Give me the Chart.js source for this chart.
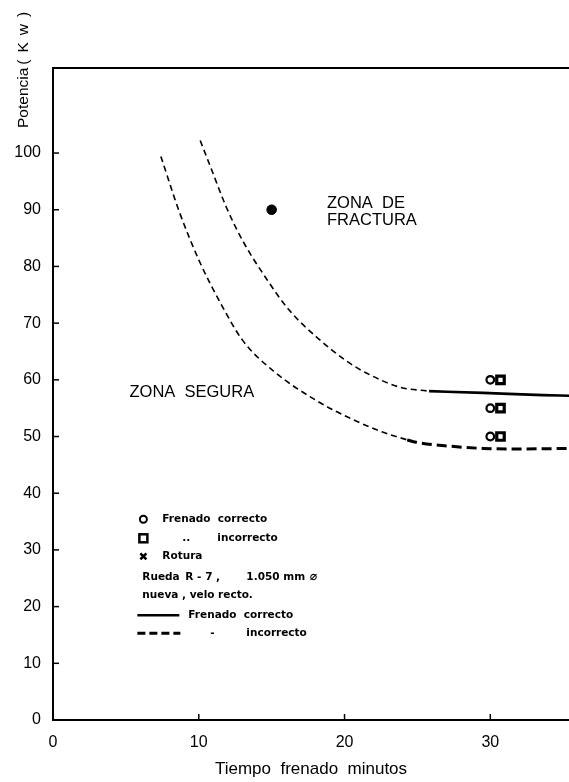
<!DOCTYPE html>
<html>
<head>
<meta charset="utf-8">
<title>Potencia frente a tiempo de frenado</title>
<script src="https://cdn.jsdelivr.net/npm/chart.js@4.4.1/dist/chart.umd.min.js"></script>
<style>
  html, body { margin: 0; padding: 0; background: #fff; }
</style>
</head>
<body>
<canvas id="chart" width="569" height="782"></canvas>
<script>
// límite de la zona de fractura (tramo a trazos finos)
const supTiempo   = [10.1, 10.8, 11.9, 13.0, 14.7, 16.2, 18.1, 20.2, 21.5, 23.8, 25.8];
const supPotencia = [102.2, 97.6, 90.4, 84.6, 77.6, 72.3, 67.5, 63.2, 61.2, 58.7, 58.0];
// continuación en trazo continuo (frenado correcto)
const supCorrTiempo   = [25.8, 29.5, 33.6, 35.4];
const supCorrPotencia = [58.0, 57.7, 57.3, 57.2];

// límite de la zona segura (trazos finos)
const infTiempo   = [7.4, 8.7, 10.1, 11.5, 13.0, 15.1, 18.1, 20.4, 22.6, 24.3];
const infPotencia = [99.4, 89.4, 80.6, 73.5, 67.0, 61.6, 56.3, 53.2, 50.8, 49.4];
// continuación a trazos gruesos (frenado incorrecto)
const infIncTiempo   = [24.3, 24.9, 27.2, 29.5, 31.8, 35.4];
const infIncPotencia = [49.4, 49.0, 48.3, 47.9, 47.8, 47.9];

// ensayos
const correctoTiempo     = [30, 30, 30];
const correctoPotencia   = [60, 55, 50];
const incorrectoTiempo   = [30.7, 30.7, 30.7];
const incorrectoPotencia = [60, 55, 50];
const roturaTiempo   = [15];
const roturaPotencia = [90];

// ejes
const xTicks = [0, 10, 20, 30];
const yTicks = [0, 10, 20, 30, 40, 50, 60, 70, 80, 90, 100];

const pts = (xs, ys) => xs.map((v, i) => ({ x: v, y: ys[i] }));
const FONT = '"Liberation Sans", Arial, sans-serif';

// marco superior, marcas interiores, rótulos y leyenda dibujada a mano
const rotulos = {
  id: 'rotulos',
  afterDatasetsDraw(chart) {
    const { ctx, chartArea: a, scales: { x, y } } = chart;
    ctx.save();
    ctx.strokeStyle = '#000';
    ctx.fillStyle = '#000';

    ctx.lineWidth = 2;
    ctx.beginPath();
    ctx.moveTo(a.left - 1, a.top);
    ctx.lineTo(a.right, a.top);
    ctx.stroke();

    ctx.lineWidth = 1.5;
    yTicks.forEach(v => {
      const py = y.getPixelForValue(v);
      ctx.beginPath(); ctx.moveTo(a.left, py); ctx.lineTo(a.left + 6, py); ctx.stroke();
    });
    xTicks.forEach(v => {
      const px = x.getPixelForValue(v);
      ctx.beginPath(); ctx.moveTo(px, a.bottom); ctx.lineTo(px, a.bottom - 6); ctx.stroke();
    });

    // título del eje vertical
    ctx.save();
    ctx.translate(a.left - 29, a.top + 60);
    ctx.rotate(-Math.PI / 2);
    ctx.font = '15.5px ' + FONT;
    ctx.textAlign = 'left';
    ctx.textBaseline = 'middle';
    ctx.fillText('Potencia', 0, 0);
    const w = ctx.measureText('Potencia').width;
    ctx.letterSpacing = '7px';
    ctx.fillText('(Kw)', w + 3, 0);
    ctx.restore();

    // zonas
    ctx.font = '16.5px ' + FONT;
    ctx.textBaseline = 'middle';
    ctx.textAlign = 'left';
    ctx.fillText('ZONA  DE', x.getPixelForValue(18.8), y.getPixelForValue(91.1));
    ctx.fillText('FRACTURA', x.getPixelForValue(18.8), y.getPixelForValue(88.1));
    ctx.textAlign = 'right';
    ctx.fillText('ZONA  SEGURA', x.getPixelForValue(13.8), y.getPixelForValue(57.8));

    // leyenda
    const lx = x.getPixelForValue(6.2);
    const ly = y.getPixelForValue(35.4);
    const fila = [0, 19, 37, 58, 76, 96, 114];
    const fLeyenda = 'bold 10.5px "DejaVu Sans", sans-serif';
    ctx.font = fLeyenda;
    ctx.textAlign = 'left';

    ctx.lineWidth = 2;
    ctx.beginPath(); ctx.arc(lx, ly + fila[0], 3.5, 0, Math.PI * 2); ctx.stroke();
    ctx.fillText('Frenado  correcto', lx + 19, ly + fila[0]);

    ctx.lineWidth = 2.5;
    ctx.strokeRect(lx - 4, ly + fila[1] - 4, 8, 8);
    ctx.fillText('..', lx + 39, ly + fila[1]);
    ctx.fillText('incorrecto', lx + 74, ly + fila[1]);

    ctx.beginPath();
    ctx.moveTo(lx - 3, ly + fila[2] - 3); ctx.lineTo(lx + 3, ly + fila[2] + 3);
    ctx.moveTo(lx + 3, ly + fila[2] - 3); ctx.lineTo(lx - 3, ly + fila[2] + 3);
    ctx.stroke();
    ctx.fillText('Rotura', lx + 19, ly + fila[2]);

    ctx.fillText('Rueda', lx - 1, ly + fila[3]);
    ctx.fillText('R - 7 ,', lx + 42, ly + fila[3]);
    ctx.fillText('1.050 mm', lx + 103, ly + fila[3]);
    const wmm = ctx.measureText('1.050 mm').width;
    ctx.font = 'bold 12px "DejaVu Sans", sans-serif';
    ctx.fillText('\u2300', lx + 103 + wmm + 5, ly + fila[3]);
    ctx.font = fLeyenda;
    ctx.fillText('nueva , velo recto.', lx - 1, ly + fila[4]);

    ctx.lineWidth = 2.5;
    ctx.beginPath(); ctx.moveTo(lx - 6, ly + fila[5]); ctx.lineTo(lx + 36, ly + fila[5]); ctx.stroke();
    ctx.fillText('Frenado  correcto', lx + 45, ly + fila[5]);

    ctx.lineWidth = 3;
    ctx.setLineDash([8, 4]);
    ctx.beginPath(); ctx.moveTo(lx - 6, ly + fila[6]); ctx.lineTo(lx + 37, ly + fila[6]); ctx.stroke();
    ctx.setLineDash([]);
    ctx.fillText('-', lx + 67, ly + fila[6]);
    ctx.fillText('incorrecto', lx + 103, ly + fila[6]);

    ctx.restore();
  }
};

new Chart(document.getElementById('chart'), {
  type: 'scatter',
  data: {
    datasets: [
      { label: 'límite fractura', data: pts(supTiempo, supPotencia), showLine: true,
        borderColor: '#000', borderWidth: 1.6, borderDash: [6, 4], pointRadius: 0,
        cubicInterpolationMode: 'monotone' },
      { label: 'Frenado correcto', data: pts(supCorrTiempo, supCorrPotencia), showLine: true,
        borderColor: '#000', borderWidth: 2.6, pointRadius: 0, cubicInterpolationMode: 'monotone' },
      { label: 'límite seguro', data: pts(infTiempo, infPotencia), showLine: true,
        borderColor: '#000', borderWidth: 1.6, borderDash: [6, 4], pointRadius: 0,
        cubicInterpolationMode: 'monotone' },
      { label: 'Frenado incorrecto', data: pts(infIncTiempo, infIncPotencia), showLine: true,
        borderColor: '#000', borderWidth: 3, borderDash: [10, 5], pointRadius: 0,
        cubicInterpolationMode: 'monotone' },
      { label: 'correcto', data: pts(correctoTiempo, correctoPotencia), pointStyle: 'circle',
        pointRadius: 3.8, borderWidth: 2.2, borderColor: '#000', backgroundColor: '#fff' },
      { label: 'incorrecto', data: pts(incorrectoTiempo, incorrectoPotencia), pointStyle: 'rect',
        pointRadius: 5.3, borderWidth: 3.2, borderColor: '#000', backgroundColor: '#fff' },
      { label: 'Rotura', data: pts(roturaTiempo, roturaPotencia), pointStyle: 'circle',
        pointRadius: 4.8, borderWidth: 1, borderColor: '#000', backgroundColor: '#000' }
    ]
  },
  options: {
    responsive: false,
    animation: false,
    // sin relleno automático: el área de trazado llega hasta el borde derecho
    layout: { autoPadding: false, padding: { top: 68, left: 0, right: 0, bottom: 0 } },
    plugins: { legend: { display: false }, tooltip: { enabled: false } },
    scales: {
      x: {
        type: 'linear', min: 0, max: 35.4,
        afterBuildTicks: s => { s.ticks = xTicks.map(v => ({ value: v })); },
        afterFit: s => { s.height = 62; s.paddingLeft = 0; s.paddingRight = 0; },
        grid: { display: false },
        border: { display: true, color: '#000', width: 2 },
        ticks: { color: '#000', padding: 5, font: { family: FONT, size: 16 } },
        title: { display: true, text: 'Tiempo  frenado  minutos', color: '#000',
                 font: { family: FONT, size: 17 }, padding: { top: 0, bottom: 2 } }
      },
      y: {
        type: 'linear', min: 0, max: 115,
        afterBuildTicks: s => { s.ticks = yTicks.map(v => ({ value: v })); },
        afterFit: s => { s.width = 53; s.paddingTop = 0; s.paddingBottom = 0; },
        grid: { display: false },
        border: { display: true, color: '#000', width: 2 },
        ticks: { color: '#000', padding: 4, font: { family: FONT, size: 16 } }
      }
    }
  },
  plugins: [rotulos]
});
</script>
</body>
</html>
